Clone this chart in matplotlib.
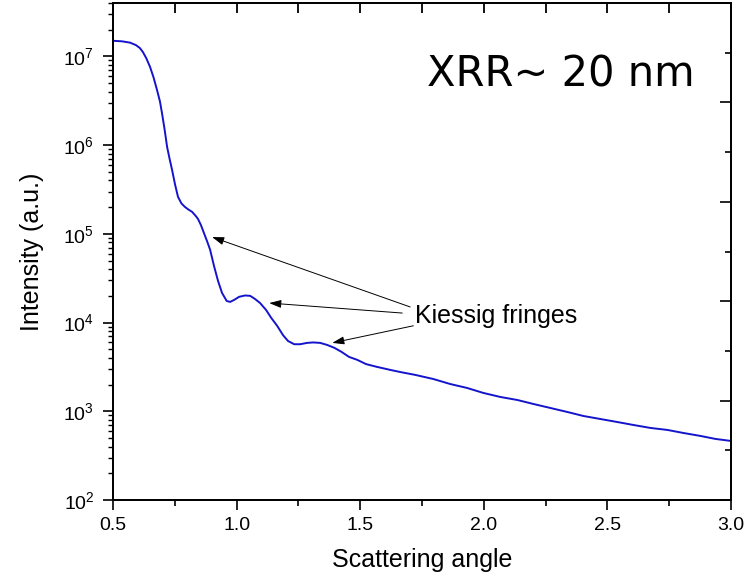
import numpy as np
import matplotlib
matplotlib.use("Agg")
import matplotlib.pyplot as plt
from matplotlib.ticker import MultipleLocator, LogLocator, NullFormatter

plt.rcParams["font.family"] = ["Liberation Sans", "DejaVu Sans"]
plt.rcParams["mathtext.default"] = "regular"

# XRR curve (angle, intensity)
angle = [0.500, 0.536, 0.569, 0.593, 0.609, 0.621, 0.635, 0.650, 0.664, 0.678,
         0.690, 0.698, 0.708, 0.719, 0.729, 0.739, 0.751, 0.763, 0.777, 0.791,
         0.805, 0.820, 0.834, 0.844, 0.856, 0.868, 0.881, 0.893, 0.909, 0.925,
         0.941, 0.960, 0.974, 0.990, 1.010, 1.034, 1.055, 1.075, 1.095, 1.119,
         1.140, 1.164, 1.188, 1.208, 1.233, 1.257, 1.285, 1.310, 1.338, 1.366,
         1.395, 1.423, 1.455, 1.488, 1.524, 1.569, 1.621, 1.662, 1.723, 1.796,
         1.864, 1.933, 1.998, 2.067, 2.136, 2.200, 2.269, 2.338, 2.403, 2.472,
         2.540, 2.605, 2.674, 2.743, 2.808, 2.877, 2.937, 3.000]
intensity = [1.50e7, 1.48e7, 1.43e7, 1.34e7, 1.24e7, 1.12e7, 9.5e6, 7.6e6, 5.8e6, 4.19e6,
             3.1e6, 2.31e6, 1.55e6, 9.5e5, 7.0e5, 5.25e5, 3.6e5, 2.61e5, 2.2e5, 2.01e5,
             1.88e5, 1.77e5, 1.60e5, 1.47e5, 1.25e5, 1.02e5, 8.2e4, 6.6e4, 4.3e4, 2.94e4,
             2.16e4, 1.75e4, 1.71e4, 1.80e4, 1.95e4, 2.02e4, 2.00e4, 1.84e4, 1.66e4, 1.39e4,
             1.13e4, 9.2e3, 7.2e3, 6.2e3, 5.7e3, 5.7e3, 5.9e3, 5.97e3, 5.9e3, 5.6e3,
             5.2e3, 4.7e3, 4.1e3, 3.8e3, 3.4e3, 3.16e3, 2.93e3, 2.77e3, 2.57e3, 2.31e3,
             2.03e3, 1.83e3, 1.61e3, 1.45e3, 1.34e3, 1.21e3, 1.09e3, 982, 885, 818,
             757, 701, 649, 616, 569, 527, 488, 463]

# arrows: (tip angle, tip intensity), (tail angle, tail intensity)
arrow_tips = [(0.901, 9.2e4), (1.132, 1.66e4), (1.387, 5.9e3)]
arrow_tails = [(1.702, 1.5e4), (1.670, 1.28e4), (1.715, 9.2e3)]

rect = [113 / 750, 76 / 576, 618 / 750, 497 / 576]
fig = plt.figure(figsize=(7.5, 5.76), dpi=100)
ax = fig.add_axes(rect)

ax.plot(angle, intensity, color="#1414cc", lw=1.4)
ax.set_yscale("log")
ax.set_xlim(0.5, 3.0)
ax.set_ylim(1e2, 4.0e7)

ax.xaxis.set_major_locator(MultipleLocator(0.5))
ax.xaxis.set_minor_locator(MultipleLocator(0.25))
ax.yaxis.set_major_locator(LogLocator(base=10, numticks=10))
ax.yaxis.set_minor_locator(LogLocator(base=10, subs=np.arange(2, 10), numticks=20))
ax.yaxis.set_minor_formatter(NullFormatter())

ax.tick_params(axis="x", which="major", direction="out", length=7.5, width=1.2,
               labelsize=14, pad=5)
ax.tick_params(axis="x", which="minor", direction="out", length=4.3, width=1.2)
ax.tick_params(axis="y", which="major", direction="out", length=7, width=1.2,
               labelsize=14, pad=6.5)
ax.tick_params(axis="y", which="minor", direction="out", length=3.6, width=1.0)
for s in ax.spines.values():
    s.set_linewidth(1.3)

# overlay frame: inward ticks on top (every 0.25) and right (own linear scale)
frame = fig.add_axes(rect)
frame.patch.set_visible(False)
frame.set_xlim(0.5, 3.0)
frame.set_ylim(0, 10)
frame.xaxis.set_major_locator(MultipleLocator(0.25))
frame.tick_params(axis="x", direction="in", length=7.5, width=1.3, color="black",
                  bottom=False, top=True, labelbottom=False, labeltop=False)
frame.yaxis.set_major_locator(MultipleLocator(2))
frame.yaxis.set_minor_locator(MultipleLocator(1))
frame.tick_params(axis="y", which="major", direction="in", length=8, width=1.2,
                  left=False, right=True, labelleft=False, labelright=False)
frame.tick_params(axis="y", which="minor", direction="in", length=4.3, width=1.2,
                  left=False, right=True)
for s in frame.spines.values():
    s.set_linewidth(1.3)

ax.set_xlabel("Scattering angle", fontsize=18, va="top")
ax.xaxis.set_label_coords(0.5, -0.097)
ax.set_ylabel("Intensity (a.u.)", fontsize=18)
ax.yaxis.set_label_coords(-0.112, 0.5)

ax.text(0.725, 0.831, "XRR~ 20 nm", transform=ax.transAxes, fontsize=30,
        family="DejaVu Sans", ha="center", va="baseline")

ax.text(1.723, 1.19e4, "Kiessig fringes", fontsize=18, ha="left", va="center")
for tip, tail in zip(arrow_tips, arrow_tails):
    ax.annotate("", xy=tip, xytext=tail,
                arrowprops=dict(arrowstyle="-|>,head_length=0.6,head_width=0.2",
                                color="black", lw=0.7, mutation_scale=12,
                                shrinkA=0, shrinkB=0))

fig.savefig("out.png", dpi=100)
